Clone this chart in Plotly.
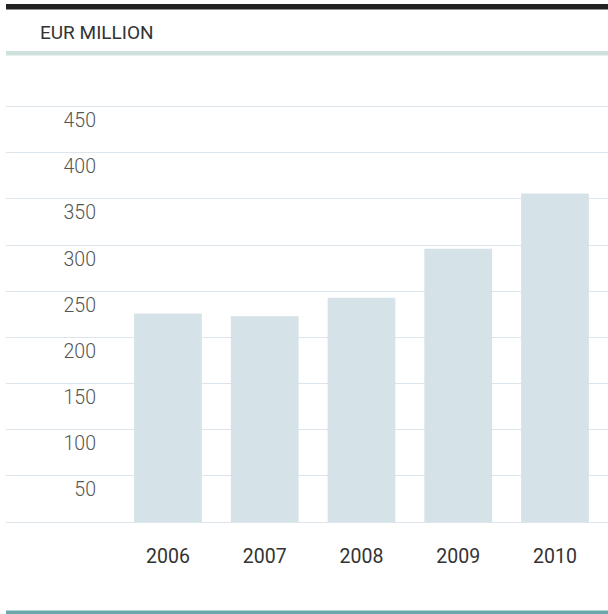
import plotly.graph_objects as go

# Chart data
years = ["2006", "2007", "2008", "2009", "2010"]
values = [226, 223, 243, 296, 356]
tick_values = [0, 50, 100, 150, 200, 250, 300, 350, 400, 450]
tick_labels = ["", "50", "100", "150", "200", "250", "300", "350", "400", "450"]

W, H = 608, 614
M_L, M_R, M_T, M_B = 6, 0, 79, 92
Y_MAX = 480

plot_h = H - M_T - M_B


def py(pix):
    """Convert a pixel row (from top) into paper y."""
    return (H - M_B - pix) / plot_h


fig = go.Figure(
    go.Bar(
        x=list(range(len(years))),
        y=values,
        width=0.70,
        marker=dict(color="#d5e2e7", line=dict(width=0)),
        hoverinfo="x+y",
    )
)

fig.update_layout(
    width=W,
    height=H,
    margin=dict(l=M_L, r=M_R, t=M_T, b=M_B),
    paper_bgcolor="white",
    plot_bgcolor="white",
    showlegend=False,
    font=dict(family="Roboto, 'Open Sans', sans-serif", color="#333333"),
    title=dict(
        text="EUR MILLION",
        x=40 / W,
        xanchor="left",
        xref="container",
        y=1 - 32 / H,
        yanchor="middle",
        yref="container",
        font=dict(size=19, color="#333333"),
    ),
    xaxis=dict(
        range=[-1.674, 4.548],
        tickvals=list(range(len(years))),
        ticktext=years,
        showgrid=False,
        zeroline=False,
        showline=False,
        ticks="",
        tickfont=dict(size=19.5, color="#333333"),
        ticklabelstandoff=20,
        fixedrange=True,
    ),
    yaxis=dict(
        range=[0, Y_MAX],
        tickvals=tick_values,
        ticktext=tick_labels,
        showgrid=True,
        gridcolor="#dbe5eb",
        gridwidth=1,
        zeroline=True,
        zerolinecolor="#dbe5eb",
        zerolinewidth=1,
        showline=False,
        ticks="",
        ticklabelposition="outside bottom",
        ticklabelstandoff=-91,
        tickfont=dict(size=19.5, color="#555555", weight=300),
        fixedrange=True,
    ),
    shapes=[
        # heavy rule across the top
        dict(type="rect", xref="paper", yref="paper", x0=0, x1=1,
             y0=py(9.5), y1=py(4), fillcolor="#222222", line=dict(width=0)),
        # pale rule under the heading
        dict(type="rect", xref="paper", yref="paper", x0=0, x1=1,
             y0=py(55.5), y1=py(51), fillcolor="#cfe1dd", line=dict(width=0)),
        # teal rule along the bottom
        dict(type="rect", xref="paper", yref="paper", x0=0, x1=1,
             y0=py(614), y1=py(610.5), fillcolor="#6aa8ab", line=dict(width=0)),
    ],
)

fig.write_html("out.html")
